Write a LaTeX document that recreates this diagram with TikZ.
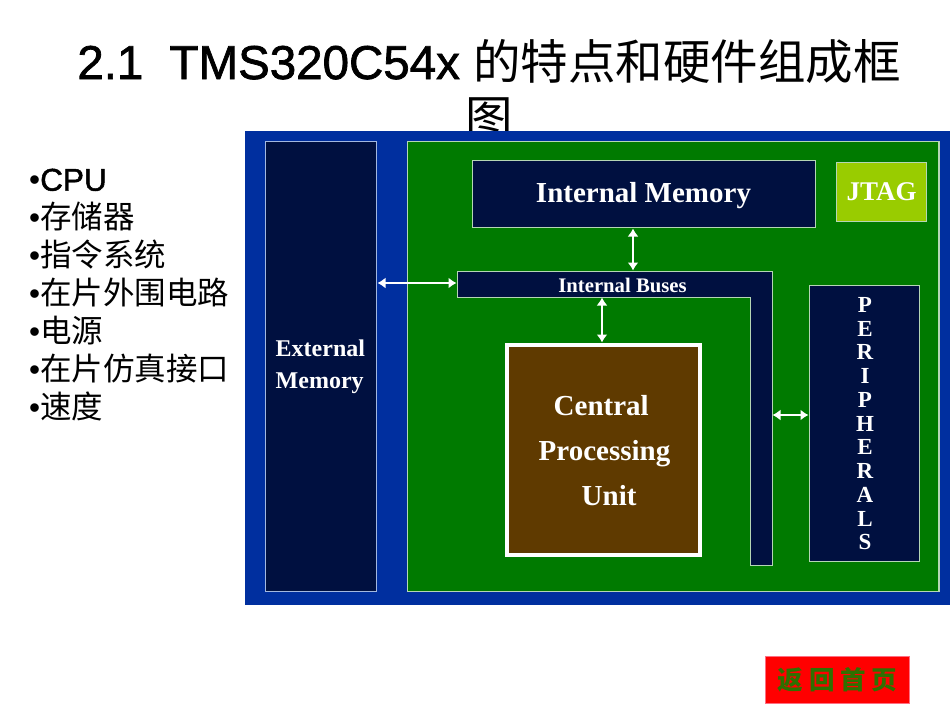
\documentclass[tikz,border=0pt]{standalone}
\usepackage{fontspec}
\setmainfont{Liberation Sans}
\newfontfamily\headfont[FakeBold=1.5]{Liberation Sans}
\newfontfamily\cjk{Noto Sans CJK SC}
\newfontfamily\labelfont[BoldFont={Liberation Serif Bold}]{Liberation Serif}
\usetikzlibrary{arrows.meta}
\definecolor{panelblue}{HTML}{002F9F}
\definecolor{navybox}{HTML}{001040}
\definecolor{boardgreen}{HTML}{007A00}
\definecolor{cpubrown}{HTML}{5F3A00}
\definecolor{jtaggreen}{HTML}{99CC00}
\definecolor{edgeblue}{HTML}{A3B8E0}
\definecolor{edgegreen}{HTML}{B5D6B5}
\definecolor{btnred}{HTML}{FF0000}
\definecolor{btntext}{HTML}{2F7000}
\tikzset{
  navyblock/.style={draw=edgegreen,fill=navybox,line width=1.3pt,inner sep=0pt,anchor=north west},
  boxlabel/.style={text=white,font=\labelfont\bfseries,inner sep=0pt},
  dblarrow/.style={draw=white,line width=2.6pt,{Latex[length=8pt,width=11pt]}-{Latex[length=8pt,width=11pt]},shorten >=0.5pt,shorten <=0.5pt},
}
\begin{document}
\begin{tikzpicture}[x=1pt,y=-1pt]
\useasboundingbox (0,0) rectangle (950,713);
\fill[white] (0,0) rectangle (950,713);
% title
\node (title) [anchor=base,align=center,inner sep=0pt,font=\fontsize{47.5}{56}\selectfont] at (489,135)
  {{\headfont 2.1\hspace{0.55em}TMS320C54x} {\cjk 的特点和硬件组成框}\\{\cjk 图}};
% bullets
\node (bullets) [anchor=north west,align=left,inner sep=0pt,font=\fontsize{31.5}{38}\selectfont] at (29,168.5)
  {•{\headfont CPU}\\•{\cjk 存储器}\\•{\cjk 指令系统}\\•{\cjk 在片外围电路}\\•{\cjk 电源}\\•{\cjk 在片仿真接口}\\•{\cjk 速度}};
% panel
\node (panel) [fill=panelblue,inner sep=0pt,minimum width=705pt,minimum height=474pt,anchor=north west] at (245,131) {};
\node (board) [draw=edgegreen,line width=1.3pt,fill=boardgreen,inner sep=0pt,minimum width=531.5pt,minimum height=450pt,anchor=north west] at (406.8,140.5) {};
\node (extmem) [navyblock,draw=edgeblue,minimum width=110.5pt,minimum height=450pt] at (265,140.5) {};
\node (extlabel) [boxlabel,anchor=north west,align=left,font=\labelfont\bfseries\fontsize{24}{32}\selectfont] at (275.5,339.5) {External\\Memory};
\node (intmem) [navyblock,minimum width=343pt,minimum height=67pt] at (472,160) {};
\node (intlabel) [boxlabel,font=\labelfont\bfseries\fontsize{29}{32}\selectfont] at (643.5,196) {Internal Memory};
\node (jtag) [draw=edgegreen,line width=1.3pt,fill=jtaggreen,inner sep=0pt,minimum width=90pt,minimum height=59pt,anchor=north west,text=white,font=\labelfont\bfseries\fontsize{27}{30}\selectfont] at (836,162) {\raisebox{-3pt}{JTAG}};
% L-shaped bus
\draw[draw=edgegreen,fill=navybox,line width=0.9pt] (457,271) -- (772,271) -- (772,565.5) -- (750,565.5) -- (750,297) -- (457,297) -- cycle;
\node (buslabel) [boxlabel,font=\labelfont\bfseries\fontsize{20.7}{24}\selectfont] at (622.5,285) {Internal Buses};
\coordinate (busleft) at (457,283);
\coordinate (bustop) at (633,271);
\coordinate (busbottom) at (602,297);
\coordinate (busright) at (772,415);
% peripherals
\node (periph) [navyblock,minimum width=110pt,minimum height=276pt] at (809,285) {};
\node (periphlabel) [boxlabel,align=center,anchor=north,font=\labelfont\bfseries\fontsize{23}{23.75}\selectfont] at (865,297)
  {P\\E\\R\\I\\P\\H\\E\\R\\A\\L\\S};
% CPU
\node (cpu) [draw=white,line width=3.5pt,fill=cpubrown,inner sep=0pt,minimum width=193pt,minimum height=210pt,anchor=north west] at (505,343) {};
\node (cpulabel) [boxlabel,anchor=north west,align=left,font=\labelfont\bfseries\fontsize{29}{45}\selectfont] at (538.5,395)
  {\hspace*{15pt}Central\\Processing\\\hspace*{43pt}Unit};
% connectors
\coordinate (extport) at (377,283);
\coordinate (memport) at (633,228);
\coordinate (cpuport) at (602,343);
\coordinate (perport) at (809,415);
\draw[dblarrow] (extport) -- (busleft);
\draw[dblarrow] (memport) -- (bustop);
\draw[dblarrow] (busbottom) -- (cpuport);
\draw[dblarrow] (busright) -- (perport);
% back button
\node (back) [draw={rgb,255:red,255;green,110;blue,130},line width=1pt,fill=btnred,inner sep=0pt,minimum width=144pt,minimum height=47pt,anchor=north west,text=btntext,font=\cjk\bfseries\fontsize{25.5}{30}\selectfont] at (765,656)
  {返\hspace{6pt}回\hspace{6pt}首\hspace{6pt}页};
\end{tikzpicture}
\end{document}
